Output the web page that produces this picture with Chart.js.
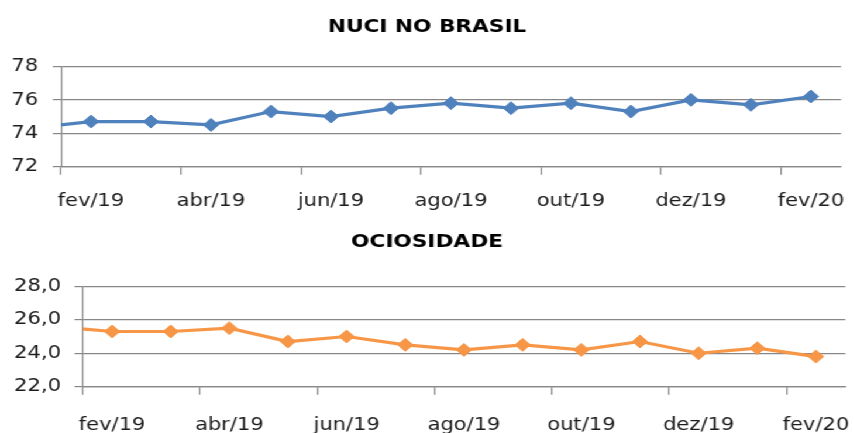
<!DOCTYPE html>
<html>
<head>
<meta charset="utf-8">
<script src="https://cdn.jsdelivr.net/npm/chart.js@4"></script>
<style>
  html, body { margin: 0; padding: 0; background: #ffffff; overflow: hidden; }
  #wrap { width: 730px; height: 433px; transform: scaleX(1.17); transform-origin: 0 0; }
  .box { position: relative; width: 730px; }
  #b1 { height: 216px; }
  #b2 { height: 217px; }
</style>
</head>
<body>
<div id="wrap">
  <div class="box" id="b1"><canvas id="c1"></canvas></div>
  <div class="box" id="b2"><canvas id="c2"></canvas></div>
</div>
<script>
// Categories (jan/19 lies just before the visible range; its segment is clipped at the axis)
const months = ['jan/19','fev/19','mar/19','abr/19','mai/19','jun/19','jul/19','ago/19','set/19','out/19','nov/19','dez/19','jan/20','fev/20'];
const firstVisible = 'fev/19';
// Series values
const nuci = [74.3, 74.7, 74.7, 74.5, 75.3, 75.0, 75.5, 75.8, 75.5, 75.8, 75.3, 76.0, 75.7, 76.2];
const ociosidade = [25.6, 25.3, 25.3, 25.5, 24.7, 25.0, 24.5, 24.2, 24.5, 24.2, 24.7, 24.0, 24.3, 23.8];
// Titles and axis ranges
const titles = ['NUCI NO BRASIL', 'OCIOSIDADE'];
const nuciTicks = [72, 74, 76, 78];
const ocioTicks = [22.0, 24.0, 26.0, 28.0];

const GRID = '#878787';
const TXT = '#1c1c1c';
const FONT = 'DejaVu Sans';

function makeChart(canvasId, title, values, color, yTicks, fmt, geo) {
  const ctx = document.getElementById(canvasId);
  return new Chart(ctx, {
    type: 'line',
    data: {
      labels: months,
      datasets: [{
        data: values,
        borderColor: color,
        backgroundColor: color,
        borderWidth: 3.2,
        tension: 0,
        pointStyle: 'rectRot',
        pointRadius: 6.5,
        pointHoverRadius: 6.5,
        pointBorderWidth: 1,
        pointBackgroundColor: color,
        pointBorderColor: color,
        clip: { left: 0, right: 12, top: 12, bottom: 12 }
      }]
    },
    options: {
      responsive: true,
      maintainAspectRatio: false,
      animation: false,
      events: [],
      layout: { padding: 0 },
      plugins: {
        legend: { display: false },
        tooltip: { enabled: false },
        title: {
          display: true,
          text: title,
          color: '#000000',
          font: { family: FONT, size: 18.5, weight: 'bold', lineHeight: 1.2 },
          padding: { top: geo.titleTop, bottom: geo.titleBottom }
        }
      },
      scales: {
        x: {
          type: 'category',
          min: firstVisible,
          offset: true,
          grid: {
            offset: true,
            drawOnChartArea: false,
            drawTicks: true,
            tickLength: 8,
            lineWidth: 1.2,
            tickColor: (c) => (c.index % 2 === 0 && c.index < 13) ? GRID : 'rgba(0,0,0,0)'
          },
          border: { display: true, color: GRID, width: 1.2 },
          ticks: {
            autoSkip: false,
            maxRotation: 0,
            minRotation: 0,
            padding: geo.xPad,
            color: TXT,
            font: { family: FONT, size: 18 },
            callback: function (value, index) { return index % 2 === 0 ? this.getLabelForValue(value) : ''; }
          },
          afterFit: (s) => {
            s.height = geo.xHeight;
            s.paddingLeft = 0;
            s.paddingRight = geo.padRight;
          }
        },
        y: {
          min: yTicks[0],
          max: yTicks[yTicks.length - 1],
          afterBuildTicks: (s) => { s.ticks = yTicks.map(v => ({ value: v })); },
          grid: { color: GRID, lineWidth: 1.2, tickLength: 7, drawTicks: true },
          border: { display: true, color: GRID, width: 1.2 },
          ticks: {
            padding: geo.yPad,
            color: TXT,
            font: { family: FONT, size: 18 },
            callback: fmt
          },
          afterFit: (s) => { s.width = geo.yWidth; }
        }
      }
    }
  });
}

makeChart('c1', titles[0], nuci, '#4f81bd', nuciTicks, (v) => String(v), {
  padRight: 11.2, titleTop: 16.0, titleBottom: 28.2, xPad: 15.5, xHeight: 49.3, yPad: 12.5, yWidth: 52.1
});
makeChart('c2', titles[1], ociosidade, '#f79646', ocioTicks, (v) => v.toFixed(1).replace('.', ','), {
  padRight: 6.3, titleTop: 14.7, titleBottom: 33.4, xPad: 20.0, xHeight: 46.3, yPad: 11.5, yWidth: 70.7
});
</script>
</body>
</html>
